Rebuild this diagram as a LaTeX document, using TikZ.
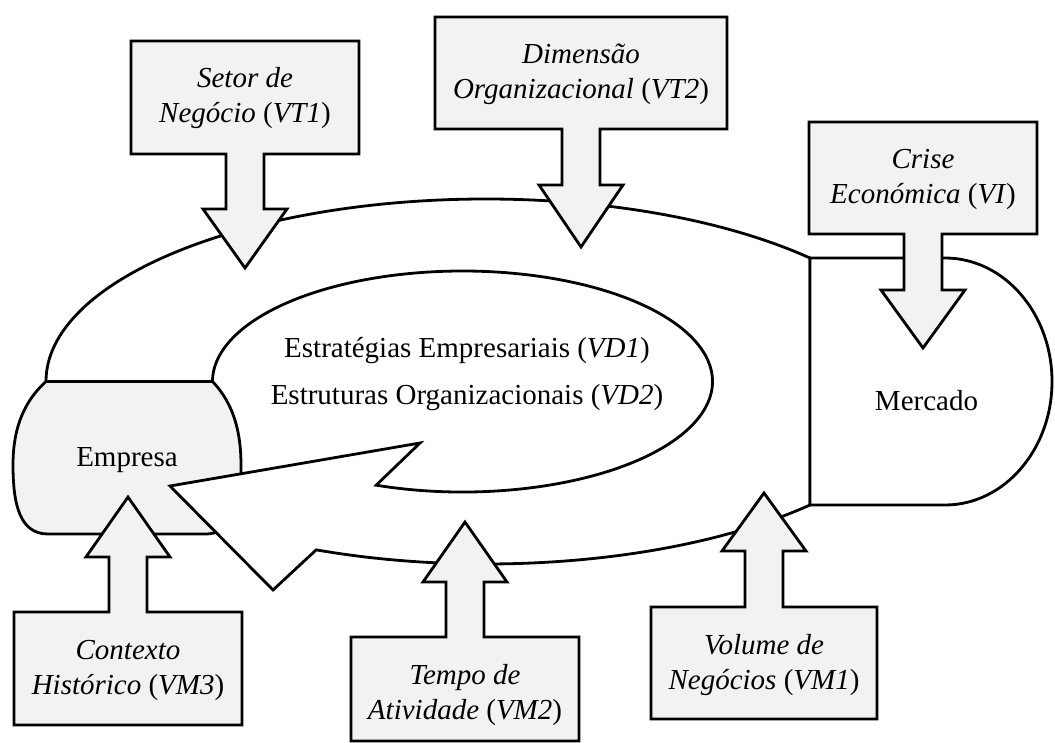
\documentclass[tikz,border=0pt]{standalone}
\usepackage{fontspec}
\setmainfont{Liberation Serif}
\usetikzlibrary{calc}
\definecolor{panelgray}{HTML}{F2F2F2}
\tikzset{
  outline/.style={draw=black, line width=1.4pt, line join=miter},
  callout/.style={outline, fill=panelgray},
  boxtext/.style={align=center, inner sep=0pt, font=\fontsize{14.5}{17.5}\selectfont},
  maintext/.style={align=center, inner sep=0pt, font=\fontsize{14.5}{23.5}\selectfont},
}
% Box with a block arrow.
% #1 centre x, #2 half width of the box, #3 edge the shaft leaves from,
% #4 opposite edge, #5 y where the head starts, #6 y of the tip
\newcommand\blockcallout[6]{%
  \path[callout] ({#1-#2},#4) -- ({#1+#2},#4) -- ({#1+#2},#3) -- ({#1+19},#3)
    -- ({#1+19},#5) -- ({#1+42},#5) -- (#1,#6) -- ({#1-42},#5) -- ({#1-19},#5)
    -- ({#1-19},#3) -- ({#1-#2},#3) -- cycle;}
\begin{document}
\begin{tikzpicture}[x=0.5pt, y=-0.5pt]
\useasboundingbox (0,0) rectangle (1055,743);

% centres of the outer and inner ellipses of the loop
\coordinate (oc) at (486,381.5);
\coordinate (ic) at (462.5,381.5);

% Empresa
\path[callout] (46,381.5) -- (212.5,381.5)
  .. controls (235,405) and (241,435) .. (241,465)
  .. controls (241,505) and (236,534) .. (205,534)
  -- (48,534)
  .. controls (20,534) and (13,505) .. (13,465)
  .. controls (13,435) and (20,405) .. cycle;
\node[anchor=base, inner sep=0pt, font=\fontsize{14.5}{17.5}\selectfont] (empresa) at (127,466) {Empresa};

% loop from Empresa through Mercado, returning as an arrow
\path[outline, fill=white]
  ($(oc)+(180:440 and 182.5)$)
  arc[start angle=180, end angle=317.43, x radius=440, y radius=182.5]
  -- ($(oc)+(42.57:440 and 182.5)$)
  arc[start angle=42.57, end angle=112.7, x radius=440, y radius=182.5]
  -- (273,590) -- (170,486) -- (420,443)
  -- ($(ic)+(110.2:250 and 110.5)$)
  arc[start angle=110.2, end angle=-180, x radius=250, y radius=110.5]
  -- cycle;
\node[maintext] (estrategias) at (467,372) {\strut Estratégias Empresariais (\textit{VD1})\\
  \strut Estruturas Organizacionais (\textit{VD2})};

% Mercado
\path[outline, fill=white] (810,258) -- (945,258)
  arc[start angle=-90, end angle=90, x radius=107, y radius=123.5]
  -- (810,505) -- cycle;
\node[anchor=base, inner sep=0pt, font=\fontsize{14.5}{17.5}\selectfont] (mercado) at (926.5,410) {Mercado};

% incoming variables, top row
\blockcallout{245}{114}{154}{41}{209}{268}
\node[boxtext] (vt1) at (245,98.5) {\strut\textit{Setor de}\\\strut\textit{Negócio} (\textit{VT1})};
\blockcallout{581}{146}{129}{17}{185}{247}
\node[boxtext] (vt2) at (581,74.5) {\strut\textit{Dimensão}\\\strut\textit{Organizacional} (\textit{VT2})};
\blockcallout{923}{114}{234}{122}{290}{348}
\node[boxtext] (vi) at (923,179.5) {\strut\textit{Crise}\\\strut\textit{Económica} (\textit{VI})};

% incoming variables, bottom row
\blockcallout{128}{114}{612}{725}{557}{497}
\node[boxtext] (vm3) at (128,669.5) {\strut\textit{Contexto}\\\strut\textit{Histórico} (\textit{VM3})};
\blockcallout{465}{114}{637}{741}{582}{522}
\node[boxtext] (vm2) at (465,694.5) {\strut\textit{Tempo de}\\\strut\textit{Atividade} (\textit{VM2})};
\blockcallout{764}{113}{607}{719}{551}{493}
\node[boxtext] (vm1) at (764,664.5) {\strut\textit{Volume de}\\\strut\textit{Negócios} (\textit{VM1})};
\end{tikzpicture}
\end{document}
